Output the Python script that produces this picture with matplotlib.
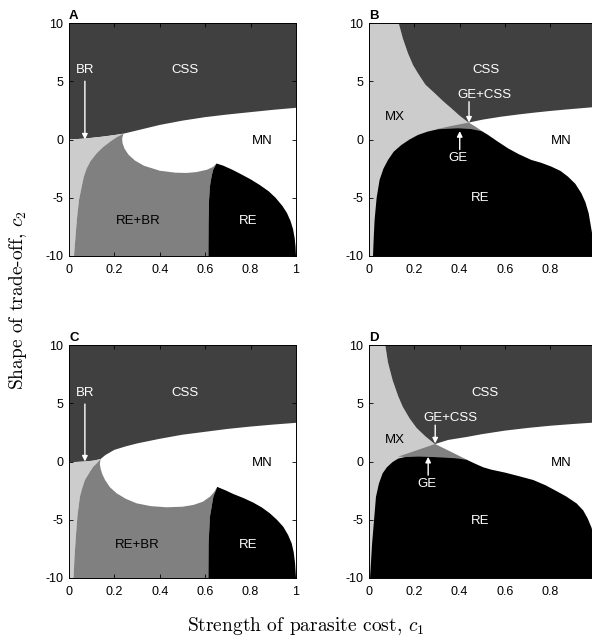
import matplotlib
matplotlib.use('Agg')
import matplotlib.pyplot as plt
from matplotlib.patches import Polygon

plt.rcParams['font.family'] = ['Liberation Sans', 'DejaVu Sans']
plt.rcParams['axes.unicode_minus'] = False
plt.rcParams['mathtext.fontset'] = 'cm'

# colours of the regions
DARK = '#404040'    # CSS
LIGHT = '#cccccc'   # BR / MX
MID = '#808080'     # RE+BR / GE
BLACK = '#000000'   # RE

# ---------------- panel A: boundaries (c1, c2) ----------------
a_css = [(0, 0), (0.07, 0.08), (0.15, 0.25), (0.2, 0.38), (0.24, 0.5), (0.3, 0.78), (0.4, 1.25),
         (0.5, 1.62), (0.6, 1.92), (0.7, 2.15), (0.8, 2.35), (0.9, 2.55), (1.0, 2.72)]
a_br_edge = [(0.24, 0.5), (0.21, 0.2), (0.181, -0.19), (0.15, -0.65), (0.122, -1.18), (0.095, -1.85),
             (0.078, -2.47), (0.065, -3.2), (0.056, -4.05), (0.044, -5.19), (0.035, -6.8),
             (0.028, -8.5), (0.022, -10)]
a_bubble = [(0.24, 0.5), (0.234, 0.1), (0.236, -0.33), (0.245, -0.8), (0.262, -1.3), (0.29, -1.8),
            (0.33, -2.25), (0.4, -2.68), (0.47, -2.85), (0.518, -2.87), (0.56, -2.8), (0.607, -2.6),
            (0.635, -2.35), (0.65, -2.06)]
a_re_left = [(0.65, -2.06), (0.635, -2.6), (0.628, -3.19), (0.621, -4.0), (0.617, -5.2),
             (0.615, -7.0), (0.614, -10)]
a_re_right = [(0.65, -2.06), (0.68, -2.25), (0.72, -2.6), (0.76, -3.0), (0.8, -3.42), (0.84, -3.9),
              (0.88, -4.45), (0.91, -5.0), (0.94, -5.7), (0.96, -6.3), (0.976, -7.0), (0.987, -7.7),
              (0.994, -8.45), (0.998, -9.2), (1.0, -10)]

# ---------------- panel C ----------------
c_css = [(0, -0.07), (0.07, 0.0), (0.11, 0.08), (0.139, 0.21), (0.16, 0.55), (0.2, 1.0), (0.25, 1.3),
         (0.3, 1.55), (0.4, 1.95), (0.5, 2.3), (0.6, 2.55), (0.7, 2.8), (0.8, 3.0), (0.9, 3.17),
         (1.0, 3.32)]
c_br_edge = [(0.139, 0.21), (0.125, -0.1), (0.107, -0.44), (0.09, -0.95), (0.07, -1.59),
             (0.058, -2.3), (0.048, -3.02), (0.037, -4.73), (0.03, -6.5), (0.024, -8.3), (0.02, -10)]
c_bubble = [(0.139, 0.21), (0.136, -0.2), (0.139, -0.6), (0.147, -1.1), (0.159, -1.59), (0.18, -2.2),
            (0.21, -2.73), (0.25, -3.2), (0.298, -3.59), (0.36, -3.83), (0.43, -3.93), (0.5, -3.88),
            (0.548, -3.73), (0.59, -3.45), (0.621, -3.02), (0.64, -2.6), (0.653, -2.18)]
c_re_left = [(0.653, -2.18), (0.636, -3.02), (0.621, -4.73), (0.615, -7.0), (0.614, -10)]
c_re_right = [(0.653, -2.18), (0.69, -2.48), (0.724, -2.79), (0.77, -3.15), (0.812, -3.53),
              (0.85, -3.95), (0.885, -4.45), (0.915, -4.98), (0.944, -5.6), (0.965, -6.3),
              (0.981, -7.03), (0.99, -7.8), (0.996, -8.75), (1.0, -10)]

# ---------------- panel B ----------------
b_hyper = [(0.132, 10), (0.15, 8.7), (0.173, 7.4), (0.195, 6.4), (0.217, 5.68), (0.25, 4.7),
           (0.291, 3.97), (0.33, 3.25), (0.364, 2.68), (0.4, 2.05), (0.44, 1.45)]
b_css = [(0.44, 1.45), (0.5, 1.7), (0.584, 1.96), (0.66, 2.15), (0.731, 2.31), (0.8, 2.45),
         (0.878, 2.59), (1.0, 2.79)]
b_ge = [(0.298, 0.88), (0.364, 1.16), (0.44, 1.45), (0.47, 1.1), (0.5, 0.7)]
b_re = [(0.019, -10), (0.022, -8.5), (0.026, -6.9), (0.035, -5.0), (0.048, -3.47), (0.065, -2.5),
        (0.085, -1.76), (0.11, -1.05), (0.144, -0.47), (0.18, 0.0), (0.217, 0.39), (0.26, 0.68),
        (0.305, 0.88), (0.393, 0.96), (0.45, 0.9), (0.5, 0.7), (0.526, 0.39), (0.57, -0.2),
        (0.614, -0.76), (0.66, -1.25), (0.717, -1.76), (0.76, -2.0), (0.805, -2.33), (0.845, -2.7),
        (0.878, -3.19), (0.91, -3.8), (0.937, -4.62), (0.955, -5.4), (0.969, -6.33), (0.984, -8.05),
        (0.995, -9.3), (1.0, -10)]

# ---------------- panel D ----------------
d_hyper = [(0.073, 10), (0.085, 8.5), (0.105, 7.0), (0.13, 5.6), (0.15, 4.7), (0.18, 3.7),
           (0.21, 2.9), (0.25, 2.15), (0.292, 1.5)]
d_css = [(0.292, 1.5), (0.35, 1.85), (0.43, 2.1), (0.5, 2.35), (0.6, 2.65), (0.7, 2.88),
         (0.8, 3.07), (0.9, 3.22), (1.0, 3.35)]
d_ge = [(0.13, 0.42), (0.21, 0.95), (0.292, 1.5), (0.36, 0.85), (0.432, 0.15)]
d_re = [(0.006, -10), (0.015, -7.05), (0.032, -3.04), (0.045, -1.9), (0.061, -1.03), (0.08, -0.5),
        (0.105, -0.05), (0.13, 0.25), (0.16, 0.38), (0.22, 0.42), (0.285, 0.38), (0.38, 0.28),
        (0.432, 0.15), (0.47, -0.2), (0.505, -0.5), (0.54, -0.7), (0.6, -0.95), (0.66, -1.25),
        (0.725, -1.59), (0.78, -2.05), (0.828, -2.55), (0.87, -3.0), (0.916, -3.6), (0.945, -4.2),
        (0.965, -4.9), (0.982, -5.7), (0.993, -6.7), (1.0, -8.0), (1.0, -10)]

# labels: (text, c1, c2, colour)
a_labels = [('BR', 0.07, 5.93, 'w'), ('CSS', 0.51, 5.93, 'w'), ('MN', 0.85, -0.14, 'k'),
            ('RE+BR', 0.305, -7.0, 'k'), ('RE', 0.79, -7.0, 'w')]
c_labels = [('BR', 0.07, 5.85, 'w'), ('CSS', 0.51, 5.85, 'w'), ('MN', 0.85, -0.1, 'k'),
            ('RE+BR', 0.302, -7.2, 'k'), ('RE', 0.79, -7.2, 'w')]
b_labels = [('CSS', 0.515, 5.93, 'w'), ('GE+CSS', 0.511, 3.81, 'w'), ('MX', 0.114, 1.96, 'k'),
            ('GE', 0.395, -1.58, 'w'), ('MN', 0.848, -0.14, 'k'), ('RE', 0.493, -5.0, 'w')]
d_labels = [('CSS', 0.512, 5.9, 'w'), ('GE+CSS', 0.362, 3.7, 'w'), ('MX', 0.116, 1.83, 'k'),
            ('GE', 0.256, -1.89, 'w'), ('MN', 0.848, -0.1, 'k'), ('RE', 0.493, -5.1, 'w')]

# arrows: (start, tip)
a_arrows = [((0.07, 5.0), (0.07, 0.0))]
c_arrows = [((0.07, 4.93), (0.07, 0.0))]
b_arrows = [((0.442, 3.24), (0.442, 1.45)), ((0.401, -0.86), (0.401, 0.72))]
d_arrows = [((0.293, 3.12), (0.293, 1.55)), ((0.262, -1.17), (0.262, 0.4))]


def add_poly(ax, pts, color):
    ax.add_patch(Polygon(pts, closed=True, facecolor=color, edgecolor='none', antialiased=True))


def draw_left(ax, css, br_edge, bubble, re_left, re_right):
    tip = br_edge[0][0]
    add_poly(ax, css + [(1, 10), (0, 10)], DARK)
    add_poly(ax, [(0, -10)] + [p for p in css if p[0] < tip] + br_edge, LIGHT)
    add_poly(ax, br_edge + re_left[::-1] + bubble[::-1], MID)
    add_poly(ax, re_left + re_right[::-1], BLACK)


def draw_right(ax, hyper, css, ge, re):
    right_tip = ge[-1]
    add_poly(ax, [(0, 10)] + hyper + ge[ge.index(hyper[-1]) + 1:] + [(right_tip[0], -10), (0, -10)], LIGHT)
    add_poly(ax, hyper + css + [(1, 10)], DARK)
    add_poly(ax, ge, MID)
    add_poly(ax, re + [(1, -10)], BLACK)


def style(ax, letter, labels, arrows):
    for txt, x, y, col in labels:
        ax.text(x, y, txt, color=col, fontsize=9.5, ha='center', va='center')
    for start, tip in arrows:
        ax.annotate('', xy=tip, xytext=start,
                    arrowprops=dict(arrowstyle='-|>', color='white', lw=1, mutation_scale=8,
                                    shrinkA=0, shrinkB=0))
    ax.set_xlim(0, 1)
    ax.set_ylim(-10, 10)
    ax.set_xticks([0, 0.2, 0.4, 0.6, 0.8, 1])
    ax.set_xticklabels(['0', '0.2', '0.4', '0.6', '0.8', '1'])
    ax.set_yticks([-10, -5, 0, 5, 10])
    ax.set_yticklabels(['-10', '-5', '0', '5', '10'])
    ax.tick_params(direction='in', top=True, right=True, length=3, width=0.6, labelsize=9)
    ax.tick_params(axis='x', pad=6)
    ax.tick_params(axis='y', pad=4)
    for s in ax.spines.values():
        s.set_linewidth(0.7)
    ax.text(0.0, 1.005, letter, transform=ax.transAxes, fontsize=9.5, fontweight='bold',
            ha='left', va='bottom')


fig = plt.figure(figsize=(5.92, 6.44), dpi=100)
w, h = 227 / 592, 233 / 644
axA = fig.add_axes([69 / 592, 1 - 256 / 644, w, h])
axB = fig.add_axes([368.7 / 592, 1 - 256 / 644, w, h])
axC = fig.add_axes([69 / 592, 1 - 578 / 644, w, h])
axD = fig.add_axes([368.7 / 592, 1 - 578 / 644, w, h])

draw_left(axA, a_css, a_br_edge, a_bubble, a_re_left, a_re_right)
draw_left(axC, c_css, c_br_edge, c_bubble, c_re_left, c_re_right)
draw_right(axB, b_hyper, b_css, b_ge, b_re)
draw_right(axD, d_hyper, d_css, d_ge, d_re)

style(axA, 'A', a_labels, a_arrows)
style(axB, 'B', b_labels, b_arrows)
style(axC, 'C', c_labels, c_arrows)
style(axD, 'D', d_labels, d_arrows)

fig.text(18 / 592, 1 - 300 / 644, 'Shape of trade-off, $c_2$', rotation=90, ha='center', va='center',
         fontsize=14, family='cmr10')
fig.text(306 / 592, 1 - 626 / 644, 'Strength of parasite cost, $c_1$', ha='center', va='center',
         fontsize=14, family='cmr10')

fig.savefig('out.png', dpi=100)
